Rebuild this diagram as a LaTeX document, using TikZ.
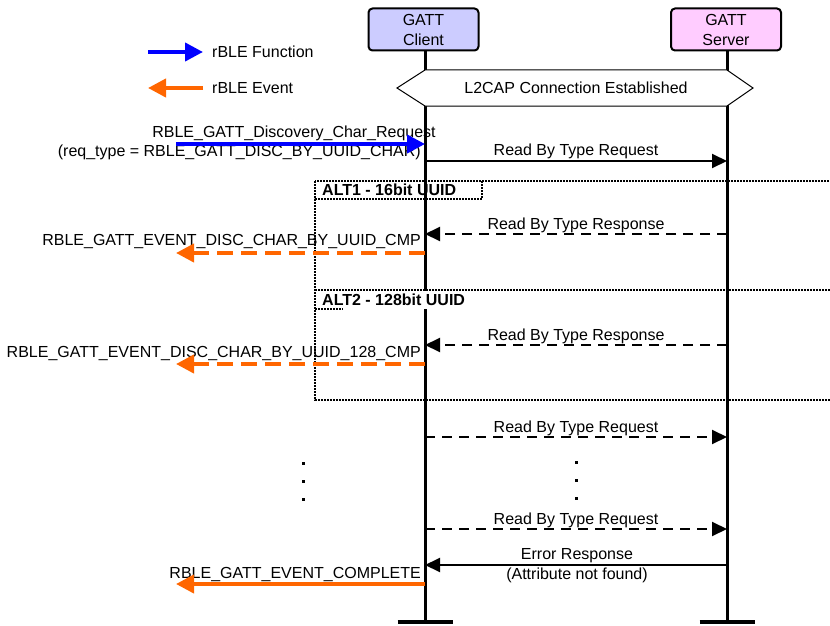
\documentclass[tikz,border=0pt]{standalone}
\usepackage{fontspec}
\setmainfont{Liberation Sans}
\usetikzlibrary{arrows.meta}
\definecolor{clientfill}{HTML}{CCCCFF}
\definecolor{serverfill}{HTML}{FFCCFF}
\definecolor{evorange}{HTML}{FF6600}
\definecolor{fnblue}{HTML}{0000FF}
\tikzset{
  entity/.style={draw=black, line width=2pt, rounded corners=4pt, minimum width=110pt, minimum height=42pt, align=center, inner sep=0pt, font=\fontsize{16}{20}\selectfont},
  lifeline/.style={line width=3pt},
  bar/.style={line width=3.5pt},
  msg/.style={line width=2pt, -{Triangle[length=15pt,width=14pt]}},
  dmsg/.style={msg, dash pattern=on 10pt off 7pt},
  fnarrow/.style={draw=fnblue, line width=4pt, -{Triangle[length=18pt,width=18pt]}},
  evarrow/.style={draw=evorange, line width=4pt, -{Triangle[length=18pt,width=18pt]}},
  evdash/.style={evarrow, dash pattern=on 16pt off 8pt},
  altline/.style={line width=2.8pt, dash pattern=on 2pt off 1pt},
  lbl/.style={inner sep=0pt, font=\fontsize{16}{18}\selectfont},
  altlbl/.style={inner sep=0pt, anchor=west, font=\bfseries\fontsize{16}{18}\selectfont},
}
\begin{document}
\begin{tikzpicture}[x=1pt,y=-1pt]
\useasboundingbox (0,0) rectangle (830,626);

% ALT frame
\draw[altline] (315,181) rectangle (845,400);
\draw[altline] (315,290) -- (845,290);
\draw[altline] (315,181) rectangle (482,199);
\node[altlbl] (alt1) at (322,190) {ALT1 - 16bit UUID};

% entities
\node[entity, fill=clientfill] (client) at (423.5,29.5) {GATT\\Client};
\node[entity, fill=serverfill] (server) at (726,29.5) {GATT\\Server};

\coordinate (cbot) at (425,622);
\coordinate (sbot) at (727,622);
\draw[lifeline] (client.south -| cbot) -- (cbot);
\draw[lifeline] (server.south -| sbot) -- (sbot);
\draw[bar] ([xshift=-27.5pt]cbot) -- ([xshift=27.5pt]cbot);
\draw[bar] ([xshift=-27.5pt]sbot) -- ([xshift=27.5pt]sbot);

% ALT2 label (covers part of lifeline)
\node[altlbl, fill=white, minimum height=18pt, inner xsep=0pt] (alt2) at (319,299.5) {\hspace{3pt}ALT2 - 128bit UUID\hspace{4pt}};
\draw[altline] (315,309) -- (343,309);

% legend
\coordinate (lgfA) at (148,52);
\coordinate (lgfB) at (203,52);
\coordinate (lgeA) at (203,88);
\coordinate (lgeB) at (148,88);
\draw[fnarrow] (lgfA) -- (lgfB);
\draw[evarrow] (lgeA) -- (lgeB);
\node[lbl, anchor=west] (lgf) at (212,52) {rBLE Function};
\node[lbl, anchor=west] (lge) at (212,88) {rBLE Event};

% L2CAP hexagon
\draw[line width=1pt, fill=white] (425,70) -- (727,70) -- (753,88) -- (727,106) -- (425,106) -- (397,88) -- cycle;
\node[lbl] (l2cap) at (576,88) {L2CAP Connection Established};

% function call
\coordinate (fA) at (176,144);
\coordinate (fB) at (425,144);
\node[lbl] (fl1) at (294,133) {RBLE\_GATT\_Discovery\_Char\_Request};
\node[lbl, anchor=east] (fl2) at (421,152) {(req\_type = RBLE\_GATT\_DISC\_BY\_UUID\_CHAR)};
\draw[fnarrow] (fA) -- (fB);

% Read by type request 1
\coordinate (c1) at (425,161);
\coordinate (s1) at (727,161);
\draw[msg] (c1) -- (s1);
\node[lbl] (m1) at (576,151) {Read By Type Request};

% ALT1 response
\coordinate (s2) at (727,234);
\coordinate (c2) at (425,234);
\draw[dmsg] (s2) -- (c2);
\node[lbl] (m2) at (576,225) {Read By Type Response};
\coordinate (e2a) at (425,253);
\coordinate (e2b) at (176,253);
\node[lbl, anchor=east] (e2l) at (421,242) {RBLE\_GATT\_EVENT\_DISC\_CHAR\_BY\_UUID\_CMP};
\draw[evdash] (e2a) -- (e2b);

% ALT2 response
\coordinate (s3) at (727,345);
\coordinate (c3) at (425,345);
\draw[dmsg] (s3) -- (c3);
\node[lbl] (m3) at (576,336) {Read By Type Response};
\coordinate (e3a) at (425,364);
\coordinate (e3b) at (176,364);
\node[lbl, anchor=east] (e3l) at (421,354) {RBLE\_GATT\_EVENT\_DISC\_CHAR\_BY\_UUID\_128\_CMP};
\draw[evdash] (e3a) -- (e3b);

% repeated requests
\coordinate (c4) at (425,437);
\coordinate (s4) at (727,437);
\draw[dmsg] (c4) -- (s4);
\node[lbl] (m4) at (576,428) {Read By Type Request};

\foreach \yy in {463,481,499} \fill (301.5,\yy-1.5) rectangle +(3,3);
\foreach \yy in {462,480,498} \fill (574.5,\yy-1.5) rectangle +(3,3);

\coordinate (c5) at (425,529);
\coordinate (s5) at (727,529);
\draw[dmsg] (c5) -- (s5);
\node[lbl] (m5) at (576,520) {Read By Type Request};

% error response
\coordinate (s6) at (727,565);
\coordinate (c6) at (425,565);
\draw[msg] (s6) -- (c6);
\node[lbl] (m6a) at (577,556) {Error Response};
\node[lbl] (m6b) at (577,575) {(Attribute not found)};

\coordinate (e7a) at (425,584);
\coordinate (e7b) at (176,584);
\node[lbl, anchor=east] (e7l) at (421,574) {RBLE\_GATT\_EVENT\_COMPLETE};
\draw[evarrow] (e7a) -- (e7b);
\end{tikzpicture}
\end{document}
